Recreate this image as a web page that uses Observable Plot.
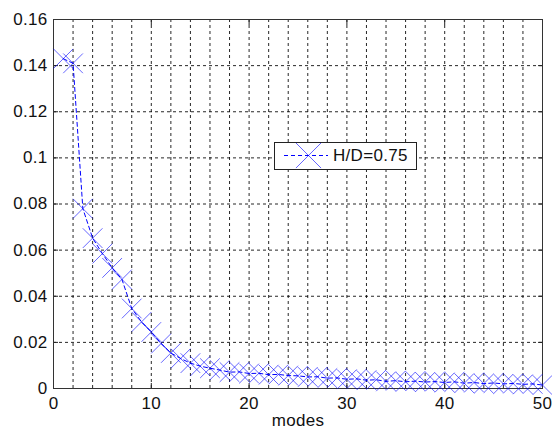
<!DOCTYPE html>
<html>
<head>
<meta charset="utf-8">
<script src="https://cdn.jsdelivr.net/npm/d3@7"></script>
<script src="https://cdn.jsdelivr.net/npm/@observablehq/plot@0.6"></script>
<style>
  html, body { margin: 0; padding: 0; background: #fff; }
  #wrap { position: relative; width: 552px; height: 430px; }
  #legend { position: absolute; left: 274px; top: 142px; width: 143px; height: 28px;
    border: 1px solid #222; background: #fff; box-sizing: border-box;
    font-family: "Liberation Sans", Arial, sans-serif; font-size: 17px; letter-spacing: 0.3px; }
  #legend svg { position: absolute; left: 0; top: 0; }
  #legend span { position: absolute; left: 58px; top: 3px; color: #111; }
</style>
</head>
<body>
<div id="wrap">
  <div id="chart"></div>
  <div id="legend"><svg width="60" height="27"></svg><span></span></div>
</div>
<script>
const modes = [1,2,3,4,5,6,7,8,9,10,11,12,13,14,15,16,17,18,19,20,21,22,23,24,25,
  26,27,28,29,30,31,32,33,34,35,36,37,38,39,40,41,42,43,44,45,46,47,48,49,50];
const values = [0.1430,0.1410,0.0780,0.0652,0.0585,0.0523,0.0473,0.0347,0.0289,0.0245,
  0.0195,0.0154,0.0130,0.0110,0.0097,0.0088,0.0080,0.0071,0.0072,0.0065,
  0.0066,0.0060,0.0061,0.0056,0.0055,0.0050,0.0051,0.0045,0.0046,0.0040,
  0.0042,0.0036,0.0038,0.0031,0.0034,0.0029,0.0032,0.0028,0.0030,0.0026,
  0.0029,0.0023,0.0026,0.0021,0.0024,0.0020,0.0022,0.0018,0.0020,0.0015];
const seriesName = "H/D=0.75";
const xTicks = [0,10,20,30,40,50];
const xGrid = [2,4,6,8,10,12,14,16,18,20,22,24,26,28,30,32,34,36,38,40,42,44,46,48];
const yTicks = [0,0.02,0.04,0.06,0.08,0.1,0.12,0.14,0.16];
const yGrid = [0.02,0.04,0.06,0.08,0.1,0.12,0.14];
const xLabel = "modes";

const data = modes.map((m, i) => ({mode: m, value: values[i]}));
const fmtY = d => d === 0 ? "0" : String(+d.toFixed(2));

const chart = Plot.plot({
  width: 552,
  height: 430,
  marginLeft: 53,
  marginRight: 10,
  marginTop: 19,
  marginBottom: 42,
  style: {fontFamily: "'Liberation Sans', Arial, sans-serif", fontSize: "17px", background: "#fff", color: "#111", letterSpacing: "0.3px"},
  x: {domain: [0, 50]},
  y: {domain: [0, 0.16]},
  marks: [
    Plot.gridX(xGrid, {stroke: "#000", strokeOpacity: 0.85, strokeDasharray: "3,3"}),
    Plot.gridY(yGrid, {stroke: "#000", strokeOpacity: 0.85, strokeDasharray: "3,3"}),
    Plot.axisX(xTicks, {anchor: "bottom", tickSize: 0, tickPadding: 8, tickFormat: d => String(d), label: null}),
    Plot.axisY(yTicks, {anchor: "left", tickSize: 0, tickPadding: 6, tickFormat: fmtY, label: null}),
    Plot.axisX(xTicks, {anchor: "bottom", tickSize: -5, text: null, stroke: "#222", label: null}),
    Plot.axisX(xTicks, {anchor: "top", tickSize: -5, text: null, stroke: "#222", label: null}),
    Plot.axisY(yTicks, {anchor: "left", tickSize: -5, text: null, stroke: "#222", label: null}),
    Plot.axisY(yTicks, {anchor: "right", tickSize: -5, text: null, stroke: "#222", label: null}),
    Plot.frame({stroke: "#333"}),
    Plot.line(data, {x: "mode", y: "value", stroke: "#0000ff", strokeWidth: 1, strokeDasharray: "4,3"}),
    Plot.dot(data, {x: "mode", y: "value", symbol: "times", r: 9, stroke: "#0000ff", strokeOpacity: 0.6, strokeWidth: 1}),
    Plot.text([xLabel], {frameAnchor: "bottom", dy: 37, text: d => d, fontSize: 17, fill: "#111"})
  ]
});
document.getElementById("chart").appendChild(chart);

// legend
const lg = d3.select("#legend svg");
lg.append("line").attr("x1", 9).attr("x2", 53).attr("y1", 12.5).attr("y2", 12.5)
  .attr("stroke", "#0000ff").attr("stroke-dasharray", "4,3");
const sym = d3.symbol(d3.symbolTimes, Math.PI * 11.5 * 11.5);
lg.append("path").attr("d", sym()).attr("transform", "translate(33.5,12.5)")
  .attr("fill", "none").attr("stroke", "#0000ff").attr("stroke-opacity", 0.6);
d3.select("#legend span").text(seriesName);
</script>
</body>
</html>
